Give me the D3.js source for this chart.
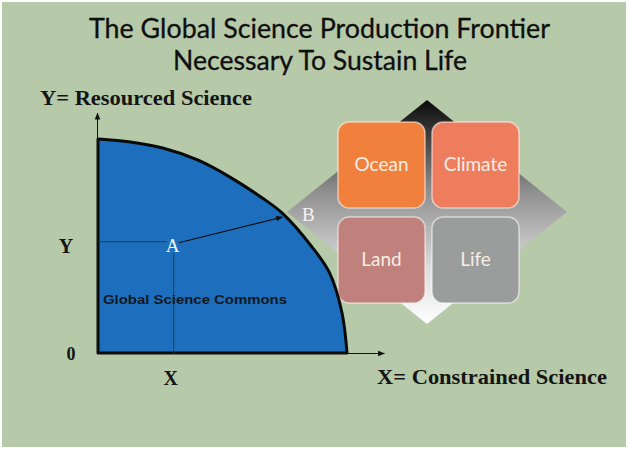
<!DOCTYPE html>
<html>
<head>
<meta charset="utf-8">
<script src="https://cdn.jsdelivr.net/npm/d3@7"></script>
<style>
  body { margin: 0; background: #fff; }
  svg { display: block; }
</style>
</head>
<body>
<div id="chart"></div>
<script>
// frontier, in chart units (0..100 on each axis)
const frontierX = [0, 13, 26, 40, 53, 66, 74, 86, 93, 98, 100];
const frontierY = [100, 98.6, 95.8, 90.2, 82.2, 72.4, 65.4, 49.5, 37.4, 18.7, 0];

// point A (inside) and B (on the frontier)
const pointA = [30, 52];
const pointB = [74, 65.4];

const titleLines = ['The Global Science Production Frontier', 'Necessary To Sustain Life'];
const boxLabels = ['Ocean', 'Climate', 'Land', 'Life'];
const boxColors = ['#f0803c', '#ee7d5e', '#c0807b', '#9b9d9d'];

const width = 629, height = 450;
const serif = '"Liberation Serif", "Times New Roman", Times, serif';

const svg = d3.select('#chart').append('svg')
    .attr('width', width)
    .attr('height', height);

// slide background
svg.append('rect')
    .attr('x', 2).attr('y', 2)
    .attr('width', width - 5).attr('height', height - 5)
    .attr('fill', '#b6c9a9');

const defs = svg.append('defs');

const grad = defs.append('linearGradient')
    .attr('id', 'diamondGrad')
    .attr('x1', 0).attr('y1', 0).attr('x2', 0).attr('y2', 1);
grad.append('stop').attr('offset', '0').attr('stop-color', '#0a0a0a');
grad.append('stop').attr('offset', '0.4').attr('stop-color', '#8d8d8d');
grad.append('stop').attr('offset', '0.75').attr('stop-color', '#dcdcdc');
grad.append('stop').attr('offset', '1').attr('stop-color', '#ffffff');

defs.append('marker')
    .attr('id', 'arrow')
    .attr('viewBox', '0 0 10 10')
    .attr('refX', 9).attr('refY', 5)
    .attr('markerWidth', 7).attr('markerHeight', 7)
    .attr('markerUnits', 'userSpaceOnUse')
    .attr('orient', 'auto')
    .append('path')
    .attr('d', 'M0,1 L10,5 L0,9 Z')
    .attr('fill', '#111');

// title
svg.selectAll('.title')
    .data(titleLines)
    .join('text')
    .attr('class', 'title')
    .attr('x', (d, i) => i === 0 ? 89 : 173)
    .attr('y', (d, i) => i === 0 ? 38 : 70)
    .attr('textLength', (d, i) => i === 0 ? 461 : 294)
    .attr('lengthAdjust', 'spacingAndGlyphs')
    .style('font-family', 'Lato, "Open Sans", sans-serif')
    .style('font-size', '27px')
    .attr('fill', '#0f0f0f')
    .attr('stroke', '#0f0f0f')
    .attr('stroke-width', 0.3)
    .text(d => d);

// scales
const x = d3.scaleLinear().domain([0, 100]).range([98, 347]);
const y = d3.scaleLinear().domain([0, 100]).range([353, 139]);

// diamond with the four boxes
const diamond = { cx: 427, cy: 212, hw: 140, hh: 112 };
svg.append('path')
    .attr('d', `M${diamond.cx},${diamond.cy - diamond.hh} L${diamond.cx + diamond.hw},${diamond.cy} ` +
               `L${diamond.cx},${diamond.cy + diamond.hh} L${diamond.cx - diamond.hw},${diamond.cy} Z`)
    .attr('fill', 'url(#diamondGrad)');

const boxW = 87, boxH = 86, gap = 7;
const boxes = svg.selectAll('.box')
    .data(boxLabels)
    .join('g')
    .attr('class', 'box')
    .attr('transform', (d, i) => {
        const bx = 338 + (i % 2) * (boxW + gap);
        const by = 122 + Math.floor(i / 2) * (boxH + 9);
        return `translate(${bx},${by})`;
    });

boxes.append('rect')
    .attr('width', boxW).attr('height', boxH)
    .attr('rx', 11).attr('ry', 11)
    .attr('fill', (d, i) => boxColors[i])
    .attr('stroke', 'rgba(255,255,255,0.55)')
    .attr('stroke-width', 1.5);

boxes.append('text')
    .attr('x', boxW / 2)
    .attr('y', boxH / 2 + 6)
    .attr('text-anchor', 'middle')
    .style('font-family', 'Lato, "Open Sans", sans-serif')
    .style('font-size', '19px')
    .attr('fill', '#f6eee6')
    .text(d => d);

// production frontier region
const pts = frontierX.map((d, i) => [d, frontierY[i]]);
const frontier = d3.line()
    .x(d => x(d[0]))
    .y(d => y(d[1]))
    .curve(d3.curveCatmullRom);

svg.append('path')
    .attr('d', frontier(pts) + `L${x(0)},${y(0)}Z`)
    .attr('fill', '#1d6fbd')
    .attr('stroke', '#0a0a0a')
    .attr('stroke-width', 3)
    .attr('stroke-linejoin', 'round');

// guide lines from A to the axes
svg.append('line')
    .attr('x1', x(0)).attr('y1', y(pointA[1]))
    .attr('x2', x(pointA[0]) - 6).attr('y2', y(pointA[1]))
    .attr('stroke', '#2b3a4a').attr('stroke-width', 1);
svg.append('line')
    .attr('x1', x(pointA[0]) + 1).attr('y1', y(pointA[1]) + 11)
    .attr('x2', x(pointA[0]) + 1).attr('y2', y(0))
    .attr('stroke', '#2b3a4a').attr('stroke-width', 1);

// arrow A -> B
svg.append('line')
    .attr('x1', x(pointA[0]) + 6).attr('y1', y(pointA[1]) + 1)
    .attr('x2', x(pointB[0])).attr('y2', y(pointB[1]) + 4)
    .attr('stroke', '#111').attr('stroke-width', 1.2)
    .attr('marker-end', 'url(#arrow)');

svg.append('text')
    .attr('x', x(pointA[0])).attr('y', y(pointA[1]) + 10)
    .attr('text-anchor', 'middle')
    .style('font-family', serif)
    .style('font-size', '19px')
    .attr('fill', '#f4f4f4')
    .text('A');

svg.append('text')
    .attr('x', x(pointB[0]) + 26).attr('y', y(pointB[1]) + 8)
    .attr('text-anchor', 'middle')
    .style('font-family', serif)
    .style('font-size', '19px')
    .attr('fill', '#f4f4f4')
    .text('B');

// axes
svg.append('line')
    .attr('x1', x(0) - 0.5).attr('y1', y(0))
    .attr('x2', x(0) - 0.5).attr('y2', y(112))
    .attr('stroke', '#111').attr('stroke-width', 1)
    .attr('marker-end', 'url(#arrow)');
svg.append('line')
    .attr('x1', x(0)).attr('y1', y(0) + 0.5)
    .attr('x2', x(115)).attr('y2', y(0) + 0.5)
    .attr('stroke', '#111').attr('stroke-width', 1)
    .attr('marker-end', 'url(#arrow)');

const serifBold = g => g
    .style('font-family', serif)
    .style('font-weight', 'bold')
    .attr('fill', '#141414');

svg.append('text')
    .attr('x', 40).attr('y', 105)
    .attr('textLength', 212)
    .attr('lengthAdjust', 'spacingAndGlyphs')
    .style('font-size', '20px')
    .call(serifBold)
    .text('Y= Resourced Science');

svg.append('text')
    .attr('x', 377).attr('y', 384)
    .attr('textLength', 230)
    .attr('lengthAdjust', 'spacingAndGlyphs')
    .style('font-size', '20px')
    .call(serifBold)
    .text('X= Constrained Science');

svg.append('text')
    .attr('x', 66).attr('y', y(pointA[1]) + 11)
    .attr('text-anchor', 'middle')
    .style('font-size', '20px')
    .call(serifBold)
    .text('Y');

svg.append('text')
    .attr('x', 71).attr('y', y(0) + 7)
    .attr('text-anchor', 'middle')
    .style('font-size', '18px')
    .call(serifBold)
    .text('0');

svg.append('text')
    .attr('x', x(pointA[0]) - 2).attr('y', 385)
    .attr('text-anchor', 'middle')
    .style('font-size', '20px')
    .call(serifBold)
    .text('X');

svg.append('text')
    .attr('x', 103).attr('y', 304)
    .attr('textLength', 184)
    .attr('lengthAdjust', 'spacingAndGlyphs')
    .style('font-family', '"Liberation Sans", Arial, sans-serif')
    .style('font-weight', 'bold')
    .style('font-size', '12px')
    .attr('fill', '#101820')
    .text('Global Science Commons');
</script>
</body>
</html>
